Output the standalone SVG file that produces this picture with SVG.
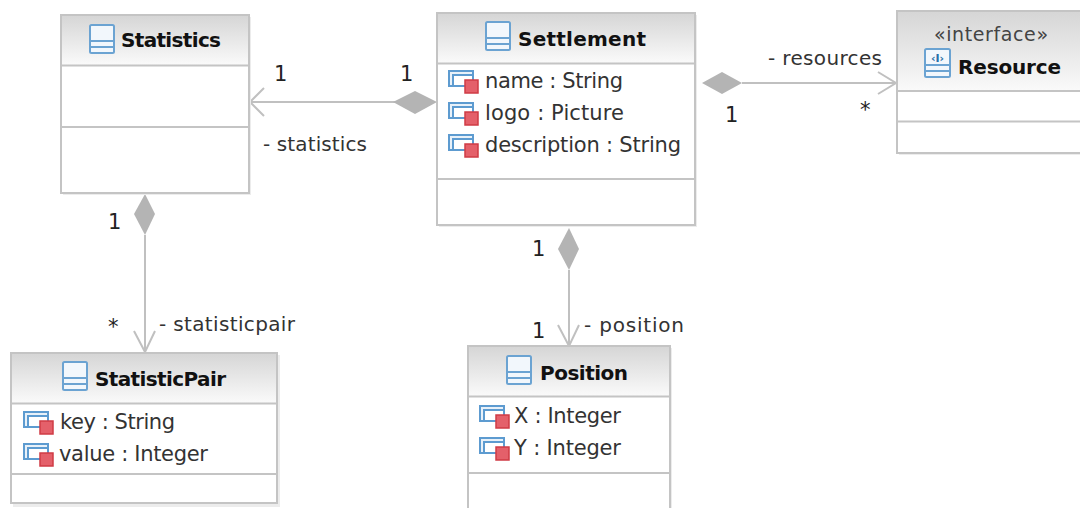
<svg xmlns="http://www.w3.org/2000/svg" width="1080" height="508" viewBox="0 0 1080 508">
<style>
.box{fill:#fff;stroke:#c4c4c4;stroke-width:2}
.shadow{fill:#ececec}
.head{fill:url(#hg)}
.div{stroke:#c4c4c4;stroke-width:2;fill:none}
.conn{stroke:#c0c0c0;stroke-width:2;fill:none}
.dia{fill:#b4b4b4;stroke:none}
text{font-family:"DejaVu Sans","Liberation Sans",sans-serif;fill:#222}
.t{font-size:20px;font-weight:bold;fill:#111}
.a{font-size:21px;fill:#333}
.l{font-size:20px;fill:#333}
.m{font-size:21px;fill:#222}
.s{font-size:19px;fill:#444}
.ic{fill:#f2f7fc;stroke:#6ba3d2;stroke-width:2}
.il{stroke:#6ba3d2;stroke-width:2;fill:none}
</style>
<defs>
<linearGradient id="hg" x1="0" y1="0" x2="0" y2="1"><stop offset="0" stop-color="#d6d6d6"/><stop offset="1" stop-color="#fafafa"/></linearGradient>
<g id="cls"><rect class="ic" x="1" y="1" width="24" height="28" rx="1.5"/><path class="il" d="M1 17H25M1 23H25"/></g>
<g id="attr"><rect x="1" y="1" width="24" height="15" fill="#e8f1f9" stroke="#5d9bd0" stroke-width="2"/><rect x="5" y="5" width="20" height="11" fill="#fff" stroke="#5d9bd0" stroke-width="2"/><rect x="17" y="10" width="13" height="13" fill="#e4606a" stroke="#cf3b45" stroke-width="1.500"/></g>
</defs>
<g id="connectors">
<path class="conn" d="M250 102H395M264 88L250 102L264 116"/><path class="dia" d="M393 102L415 91L437 102L415 114Z"/>
<path class="conn" d="M742 83H896M878 72L896 83L878 94"/><path class="dia" d="M702 83L722 72L742 83L722 94Z"/>
<path class="conn" d="M145 235V352M134 331L145 352L155 331"/><path class="dia" d="M145 194L155 214L145 235L134 214Z"/>
<path class="conn" d="M569 270V346M558 325L569 346L579 325"/><path class="dia" d="M569 228L579 249L569 270L558 249Z"/>
</g>
<g id="labels">
<text class="m" x="274" y="81">1</text><text class="m" x="400" y="81">1</text>
<text class="l" x="263" y="151" textLength="104">- statistics</text>
<text class="l" x="768" y="65" textLength="114">- resources</text>
<text class="m" x="725" y="122">1</text><text class="m" x="860" y="117">*</text>
<text class="m" x="108" y="229">1</text><text class="m" x="108" y="334">*</text>
<text class="l" x="159" y="331" textLength="136">- statisticpair</text>
<text class="m" x="532" y="256">1</text><text class="m" x="532" y="338">1</text>
<text class="l" x="584" y="332" textLength="100">- position</text>
</g>
<g id="statistics">
<rect class="shadow" x="63" y="17" width="188" height="178"/>
<rect class="box" x="61" y="15" width="188" height="178"/>
<rect class="head" x="62" y="16" width="186" height="49"/>
<path class="div" d="M61 65.500H249M61 127H249"/>
<use href="#cls" x="89" y="24"/>
<text class="t" x="121" y="47" textLength="100">Statistics</text>
</g>
<g id="settlement">
<rect class="shadow" x="439" y="15" width="258" height="212"/>
<rect class="box" x="437" y="13" width="258" height="212"/>
<rect class="head" x="438" y="14" width="256" height="49"/>
<path class="div" d="M437 63.500H695M437 179H695"/>
<use href="#cls" x="485" y="21"/>
<text class="t" x="518" y="46" textLength="128">Settlement</text>
<use href="#attr" x="448" y="70"/><text class="a" x="485" y="88" textLength="138">name : String</text>
<use href="#attr" x="448" y="102"/><text class="a" x="485" y="120" textLength="139">logo : Picture</text>
<use href="#attr" x="448" y="134"/><text class="a" x="485" y="152" textLength="196">description : String</text>
</g>
<g id="resource">
<rect class="shadow" x="899" y="13" width="183" height="142"/>
<rect class="box" x="897" y="11" width="185" height="142"/>
<rect class="head" x="898" y="12" width="182" height="79"/>
<path class="div" d="M897 91H1080M897 121.500H1080"/>
<text class="s" x="934" y="41" textLength="114">«interface»</text>
<rect class="ic" x="925" y="49" width="25" height="28" rx="1.500"/><path class="il" d="M925 65H950M925 71H950"/>
<text x="937.500" y="62" font-size="11" font-weight="bold" text-anchor="middle" style="fill:#2a6fa8">‹I›</text>
<text class="t" x="958" y="74" textLength="103">Resource</text>
</g>
<g id="statisticpair">
<rect class="shadow" x="13" y="355" width="267" height="152"/>
<rect class="box" x="11" y="353" width="266" height="150"/>
<rect class="head" x="12" y="354" width="264" height="49"/>
<path class="div" d="M11 403.500H277M11 474H277"/>
<use href="#cls" x="62" y="361"/>
<text class="t" x="95" y="386" textLength="131">StatisticPair</text>
<use href="#attr" x="23" y="411"/><text class="a" x="60" y="429" textLength="115">key : String</text>
<use href="#attr" x="23" y="443"/><text class="a" x="59" y="461" textLength="149">value : Integer</text>
</g>
<g id="position">
<rect class="shadow" x="470" y="348" width="202" height="170"/>
<rect class="box" x="468" y="346" width="202" height="170"/>
<rect class="head" x="469" y="347" width="200" height="49"/>
<path class="div" d="M468 396.500H670M468 473H670"/>
<use href="#cls" x="506" y="355"/>
<text class="t" x="540" y="380" textLength="88">Position</text>
<use href="#attr" x="479" y="405"/><text class="a" x="514" y="423" textLength="107">X : Integer</text>
<use href="#attr" x="479" y="437"/><text class="a" x="514" y="455" textLength="107">Y : Integer</text>
</g>
</svg>
